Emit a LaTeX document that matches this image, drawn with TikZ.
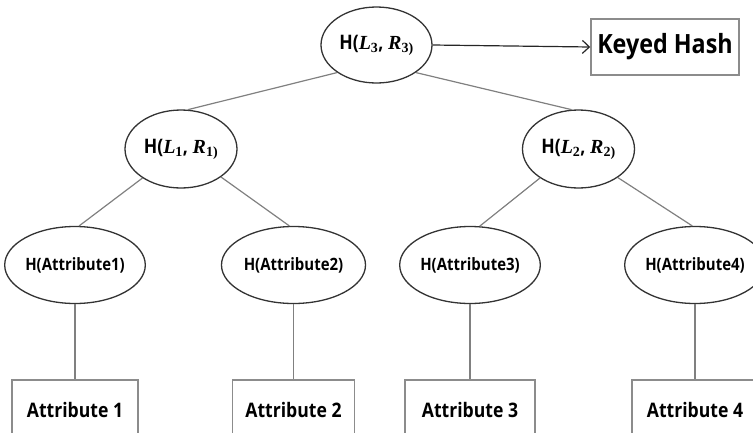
\documentclass[tikz,border=0pt]{standalone}
\usepackage{fontspec}
\setmainfont{Open Sans}[FakeStretch=0.88]
\newfontfamily\serifbi{Liberation Serif}
\newcommand\lrsub[2]{{\serifbi\bfseries\itshape #1}\textsubscript{\serifbi\bfseries #2}}
\usetikzlibrary{shapes.geometric,arrows.meta}
\begin{document}
\begin{tikzpicture}[x=1pt,y=-1pt,
  hnode/.style={ellipse,draw=black!80,line width=1.3pt,inner sep=0pt,
    font=\fontsize{20}{24}\selectfont\bfseries,minimum width=112pt,minimum height=78pt},
  anode/.style={hnode,minimum width=140pt,minimum height=77pt,
    font=\fontsize{17}{20}\selectfont\bfseries},
  abox/.style={rectangle,draw=black!45,line width=1.5pt,minimum width=126pt,
    minimum height=60pt,inner sep=0pt,font=\fontsize{20}{24}\selectfont\bfseries},
  khbox/.style={rectangle,draw=black!45,line width=1.5pt,minimum width=148pt,
    minimum height=56pt,inner sep=0pt,font=\fontsize{26.5}{30}\selectfont\bfseries},
  link/.style={draw=black!50,line width=1.2pt},
  arrowlink/.style={draw=black!85,line width=1.2pt,-{Straight Barb[length=7pt,width=13pt]}}]
\useasboundingbox (0,0) rectangle (753,432);
\clip (0,0) rectangle (753,432);

\node[hnode,minimum width=111pt,minimum height=76pt] (n3) at (376.5,45) {H(\lrsub{L}{3}, \lrsub{R}{3)}};
\node[khbox] (kh) at (665,47) {Keyed Hash};
\node[hnode] (n1) at (181,149) {H(\lrsub{L}{1}, \lrsub{R}{1)}};
\node[hnode] (n2) at (578.5,149) {H(\lrsub{L}{2}, \lrsub{R}{2)}};

\node[anode] (a1) at (75,265) {H(Attribute1)};
\node[anode,minimum width=144pt] (a2) at (293.5,265) {H(Attribute2)};
\node[anode] (a3) at (470,265) {H(Attribute3)};
\node[anode] (a4) at (695,265) {H(Attribute4)};

\node[abox] (b1) at (75,410) {Attribute 1};
\node[abox,minimum width=122pt] (b2) at (293.5,410) {Attribute 2};
\node[abox,minimum width=130pt] (b3) at (470,410) {Attribute 3};
\node[abox] (b4) at (695,410) {Attribute 4};

\draw[arrowlink] (n3.east) -- (kh.west);

\draw[link] (n3.215) -- (n1.80);
\draw[link] (n3.325) -- (n2.100);
\draw[link] (n1.217) -- (a1.84);
\draw[link] (n1.325) -- (a2.96);
\draw[link] (n2.217) -- (a3.76);
\draw[link] (n2.324) -- (a4.94);

\draw[link] (a1.south) -- (b1.north);
\draw[link] (a2.south) -- (b2.north);
\draw[link] (a3.south) -- (b3.north);
\draw[link] (a4.south) -- (b4.north);
\end{tikzpicture}
\end{document}
